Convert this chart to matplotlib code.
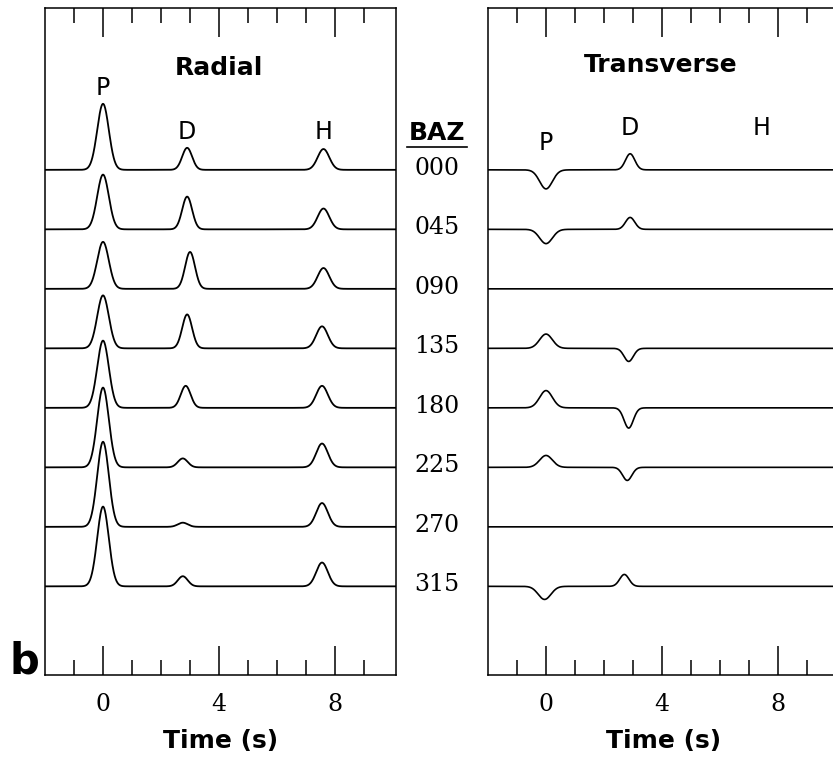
import numpy as np
import matplotlib.pyplot as plt

# back azimuths, one trace each
baz = ['000', '045', '090', '135', '180', '225', '270', '315']

# radial component: P, D and H pulse amplitudes (trace spacing = 1) and times (s)
rad_p_amp = [1.11, 0.92, 0.79, 0.89, 1.13, 1.34, 1.43, 1.34]
rad_p_time = [0.0, 0.0, 0.0, 0.0, 0.0, 0.0, 0.0, 0.0]
rad_d_amp = [0.37, 0.55, 0.62, 0.57, 0.37, 0.15, 0.07, 0.17]
rad_d_time = [2.9, 2.9, 3.0, 2.9, 2.85, 2.75, 2.75, 2.75]
rad_h_amp = [0.35, 0.35, 0.35, 0.37, 0.37, 0.40, 0.40, 0.40]
rad_h_time = [7.6, 7.6, 7.6, 7.55, 7.55, 7.55, 7.55, 7.55]

# transverse component
tra_p_amp = [-0.32, -0.24, 0.0, 0.24, 0.29, 0.20, 0.0, -0.22]
tra_p_time = [0.0, 0.0, 0.0, 0.0, 0.0, 0.0, 0.0, -0.05]
tra_d_amp = [0.27, 0.20, 0.0, -0.22, -0.34, -0.22, 0.0, 0.20]
tra_d_time = [2.9, 2.9, 2.9, 2.85, 2.85, 2.8, 2.8, 2.7]

t = np.linspace(-2.0, 10.2, 1500)


def pulse(t0, amp, width):
    # gaussian-shaped arrival
    return amp * np.exp(-0.5 * ((t - t0) / width) ** 2)


W, H = 833, 757
fig = plt.figure(figsize=(W / 100, H / 100), dpi=100)

bot = 1 - 675 / H
top = 1 - 8 / H
axw = 351 / W
ax_r = fig.add_axes([45 / W, bot, axw, top - bot])
ax_t = fig.add_axes([488 / W, bot, axw, top - bot])

ylo, yhi = -8.49, 2.72
bold = dict(family='DejaVu Sans', weight='bold')

for ax in (ax_r, ax_t):
    ax.set_xlim(-2.0, 10.1)
    ax.set_ylim(ylo, yhi)
    ax.set_yticks([])
    ax.set_xticks([0, 4, 8])
    ax.set_xticks(np.arange(-1, 10), minor=True)
    ax.set_xticklabels(['0', '4', '8'], family='DejaVu Serif', fontsize=17)
    ax.tick_params(axis='x', which='both', direction='in', top=True,
                   bottom=True, width=1.1, pad=13, color='black')
    ax.tick_params(axis='x', which='major', length=21)
    ax.tick_params(axis='x', which='minor', length=11)
    for s in ax.spines.values():
        s.set_linewidth(1.1)
    ax.set_xlabel('Time (s)', fontsize=18, labelpad=9, **bold)

for i in range(len(baz)):
    yr = (pulse(rad_p_time[i], rad_p_amp[i], 0.2)
          + pulse(rad_d_time[i], rad_d_amp[i], 0.17)
          + pulse(rad_h_time[i], rad_h_amp[i], 0.2))
    ax_r.plot(t, yr - i, color='black', lw=1.3)
    yt = (pulse(tra_p_time[i], tra_p_amp[i], 0.22)
          + pulse(tra_d_time[i], tra_d_amp[i], 0.16))
    ax_t.plot(t, yt - i, color='black', lw=1.2)

# panel titles and phase labels
ax_r.text(4.0, 1.71, 'Radial', ha='center', va='center', fontsize=18, **bold)
ax_t.text(3.94, 1.76, 'Transverse', ha='center', va='center', fontsize=18, **bold)
ax_r.text(0.0, 1.38, 'P', ha='center', va='center', fontsize=17)
ax_r.text(2.9, 0.64, 'D', ha='center', va='center', fontsize=17)
ax_r.text(7.6, 0.64, 'H', ha='center', va='center', fontsize=17)
ax_t.text(0.0, 0.45, 'P', ha='center', va='center', fontsize=17)
ax_t.text(2.9, 0.71, 'D', ha='center', va='center', fontsize=17)
ax_t.text(7.43, 0.71, 'H', ha='center', va='center', fontsize=17)

# BAZ column between the panels
tr = ax_r.get_yaxis_transform()
ax_r.text(1.117, 0.62, 'BAZ', transform=tr, ha='center', va='center',
          fontsize=18, **bold)
ax_r.plot([1.031, 1.202], [0.39, 0.39], transform=tr, color='black',
          lw=1.2, clip_on=False)
for i, b in enumerate(baz):
    ax_r.text(1.117, -i + 0.03, b, transform=tr, ha='center', va='center',
              family='DejaVu Serif', fontsize=17)

fig.text(24 / W, 1 - 661 / H, 'b', ha='center', va='center', fontsize=30,
         **bold)

fig.savefig('out.png', dpi=100)
